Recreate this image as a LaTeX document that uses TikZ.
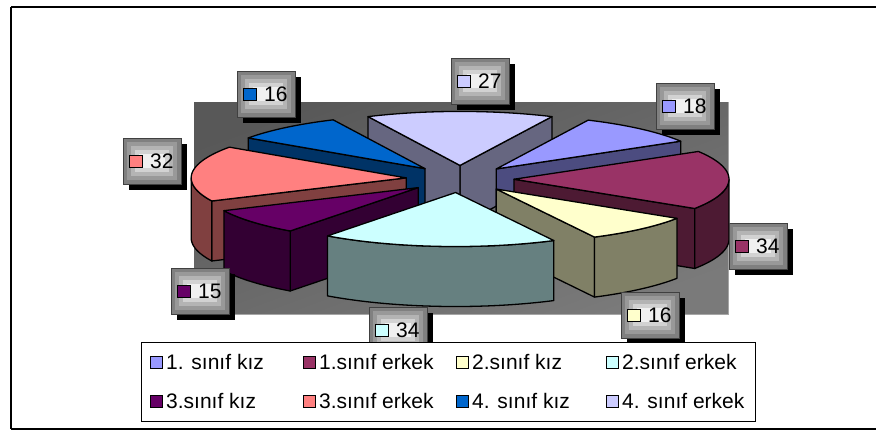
\documentclass[tikz,border=0pt]{standalone}
\usepackage{fontspec}
\setmainfont{Liberation Sans}
\definecolor{c1}{HTML}{9999FF}\definecolor{d1}{HTML}{4C4C80}
\definecolor{c2}{HTML}{993366}\definecolor{d2}{HTML}{4D1A33}
\definecolor{c3}{HTML}{FFFFCC}\definecolor{d3}{HTML}{808066}
\definecolor{c4}{HTML}{CCFFFF}\definecolor{d4}{HTML}{668080}
\definecolor{c5}{HTML}{660066}\definecolor{d5}{HTML}{330033}
\definecolor{c6}{HTML}{FF8080}\definecolor{d6}{HTML}{804040}
\definecolor{c7}{HTML}{0066CC}\definecolor{d7}{HTML}{003366}
\definecolor{c8}{HTML}{CCCCFF}\definecolor{d8}{HTML}{666680}
\definecolor{paA}{HTML}{585858}\definecolor{paB}{HTML}{7A7A7A}
\definecolor{lb0}{HTML}{808080}\definecolor{lb1}{HTML}{999999}
\definecolor{lb2}{HTML}{B4B4B4}\definecolor{lb3}{HTML}{D2D2D2}
\definecolor{lb4}{HTML}{F0F0F0}
\def\pcx{460}\def\pcy{179}\def\pR{215}\def\pRy{54}\def\pex{54}\def\pdep{60}
\newcommand\setapex[1]{%
  \pgfmathsetmacro\ax{\pcx+\pex*cos(#1)}%
  \pgfmathsetmacro\ay{\pcy-\pex*0.2512*sin(#1)}}
% radial face at angle #1, colour #2
\newcommand\radface[2]{%
  \draw[edge,fill=#2] (\ax,\ay) -- ({\ax+\pR*cos(#1)},{\ay-\pRy*sin(#1)})
    -- ({\ax+\pR*cos(#1)},{\ay-\pRy*sin(#1)+\pdep}) -- (\ax,\ay+\pdep) -- cycle;}
% outer side from #1 to #2, colour #3
\newcommand\outside[3]{%
  \draw[edge,fill=#3] plot[domain=#1:#2,samples=50] ({\ax+\pR*cos(\x)},{\ay-\pRy*sin(\x)})
    -- plot[domain=#2:#1,samples=50] ({\ax+\pR*cos(\x)},{\ay-\pRy*sin(\x)+\pdep}) -- cycle;}
% top face from #1 to #2, colour #3
\newcommand\topface[3]{%
  \draw[edge,fill=#3] (\ax,\ay) -- plot[domain=#1:#2,samples=50] ({\ax+\pR*cos(\x)},{\ay-\pRy*sin(\x)}) -- cycle;}
% data label: name, x, y (top-left), colour, text
\newcommand\dlabel[5]{%
  \fill[black] (#2+6,#3+6) rectangle ++(58,46);
  \fill[lb0] (#2,#3) rectangle ++(58,46);
  \fill[lb1] (#2+4,#3+4) rectangle ++(50,38);
  \fill[lb2] (#2+8,#3+8) rectangle ++(42,30);
  \fill[lb3] (#2+12,#3+12) rectangle ++(34,22);
  \fill[lb4] (#2+16,#3+16) rectangle ++(26,14);
  \draw[line width=0.8pt,black!75] (#2,#3) rectangle ++(58,46);
  \draw[marker,fill=#4] (#2+6,#3+17) rectangle ++(13,12);
  \node[lbltext,anchor=west] (#1) at (#2+27,#3+23) {#5};}
\newcommand\legentry[5]{% name, x, y (centre), colour, text
  \draw[marker,fill=#4] (#2-6,#3-6) rectangle ++(12,12);
  \node[lbltext,anchor=west] (#1) at (#2+10,#3) {#5};}
\tikzset{
  edge/.style={draw=black,line width=1.3pt,line join=round},
  marker/.style={draw=black,line width=1pt},
  lbltext/.style={inner sep=0pt,font=\fontsize{21}{24}\selectfont},
}
\begin{document}
\begin{tikzpicture}[x=1pt,y=-1pt]
\useasboundingbox (0,0) rectangle (876,431);
\fill[white] (0,0) rectangle (876,431);
% outer frame
\draw[line width=2pt] (11,6.5) -- (876,6.5);
\draw[line width=2pt] (11,6.5) -- (11,429);
\draw[line width=1.5pt] (11,429) -- (876,429);
% plot area
\shade[top color=paA,bottom color=paB,shading angle=20] (194,102) rectangle (728,314);
\draw[line width=1pt,gray!70] (728,102) -- (728,314) -- (194,314);
% pie slices, back to front
\setapex{90}
\radface{64.6875}{d8}\radface{115.3125}{d8}\topface{64.6875}{115.3125}{c8}
\setapex{130.3125}
\radface{145.3125}{d7}\topface{115.3125}{145.3125}{c7}
\setapex{47.8125}
\radface{30.9375}{d1}\topface{30.9375}{64.6875}{c1}
\setapex{175.3125}
\radface{205.3125}{d6}\outside{180}{205.3125}{d6}\topface{145.3125}{205.3125}{c6}
\setapex{-0.9375}
\radface{-32.8125}{d2}\outside{-32.8125}{0}{d2}\topface{-32.8125}{30.9375}{c2}
\setapex{-140.625}
\radface{-126.5625}{d5}\outside{-154.6875}{-126.5625}{d5}\topface{-154.6875}{-126.5625}{c5}
\setapex{-47.8125}
\radface{-62.8125}{d3}\outside{-62.8125}{-32.8125}{d3}\topface{-62.8125}{-32.8125}{c3}
\setapex{-94.6875}
\outside{-126.5625}{-62.8125}{d4}\topface{-126.5625}{-62.8125}{c4}
% data labels
\dlabel{l8}{451}{58}{c8}{27}
\dlabel{l7}{237}{71}{c7}{16}
\dlabel{l1}{656}{83}{c1}{18}
\dlabel{l6}{123}{138}{c6}{32}
\dlabel{l2}{729}{223}{c2}{34}
\dlabel{l5}{171}{268}{c5}{15}
\dlabel{l3}{621}{292}{c3}{16}
\dlabel{l4}{369}{307}{c4}{34}
% legend
\draw[fill=white,line width=1pt] (141,342) rectangle (755,421);
\legentry{g1}{156}{362}{c1}{1. sınıf kız}
\legentry{g2}{309}{362}{c2}{1.sınıf erkek}
\legentry{g3}{462}{362}{c3}{2.sınıf kız}
\legentry{g4}{612}{362}{c4}{2.sınıf erkek}
\legentry{g5}{156}{401}{c5}{3.sınıf kız}
\legentry{g6}{309}{401}{c6}{3.sınıf erkek}
\legentry{g7}{462}{401}{c7}{4. sınıf kız}
\legentry{g8}{612}{401}{c8}{4. sınıf erkek}
\end{tikzpicture}
\end{document}
